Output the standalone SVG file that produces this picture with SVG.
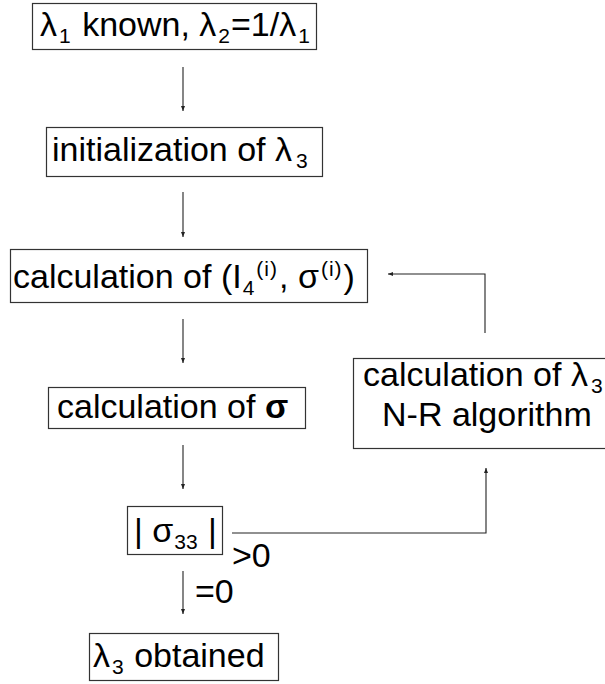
<svg xmlns="http://www.w3.org/2000/svg" width="605" height="684" viewBox="0 0 605 684">
<style>
.box{fill:#fff;stroke:#333;stroke-width:1.2}
.t{font-family:"Liberation Sans",Arial,sans-serif;font-size:34px;fill:#000}
.s{font-size:21px}
.p{font-size:21px;letter-spacing:1px}
.c{fill:none;stroke:#222;stroke-width:1.1}
</style>
<defs>
<marker id="ah" viewBox="0 0 10 10" refX="10" refY="5" markerWidth="5" markerHeight="7" markerUnits="userSpaceOnUse" orient="auto">
<path d="M0,1 L10,5 L0,9 Z" fill="#222"/>
</marker>
</defs>
<rect width="605" height="684" fill="#fff"/>
<g id="n1"><rect class="box" x="32.5" y="3.5" width="284" height="46"/>
<text class="t" x="40" y="36">λ<tspan class="s" dx="2" dy="7">1</tspan><tspan dx="2" dy="-7"> known, λ</tspan><tspan class="s" dx="2" dy="7">2</tspan><tspan dx="1" dy="-7">=1/λ</tspan><tspan class="s" dx="2" dy="7">1</tspan></text></g>
<g id="n2"><rect class="box" x="46.5" y="127.5" width="276" height="49"/>
<text class="t" x="52" y="161">initialization of λ<tspan class="s" dx="4" dy="7">3</tspan></text></g>
<g id="n3"><rect class="box" x="10.5" y="249.5" width="357" height="53"/>
<text class="t" x="13" y="288">calculation of (I<tspan class="s" dx="1" dy="7">4</tspan><tspan class="p" dx="2" dy="-19">(i)</tspan><tspan dx="1" dy="12">, σ</tspan><tspan class="p" dx="2" dy="-12">(i)</tspan><tspan dx="1" dy="12">)</tspan></text></g>
<g id="n4"><rect class="box" x="353.5" y="358.5" width="260" height="90"/>
<text class="t" x="363" y="386">calculation of λ<tspan class="s" dx="3" dy="7">3</tspan></text>
<text class="t" x="382" y="426">N-R algorithm</text></g>
<g id="n5"><rect class="box" x="48.5" y="387.5" width="257" height="41"/>
<text class="t" x="57" y="418">calculation of <tspan font-weight="bold">σ</tspan></text></g>
<g id="n6"><rect class="box" x="127.5" y="506.5" width="95" height="48"/>
<text class="t" x="134" y="542">| σ<tspan class="s" dx="1" dy="7">33</tspan><tspan dx="1" dy="-7"> |</tspan></text></g>
<g id="n7"><rect class="box" x="89.5" y="633.5" width="189" height="47"/>
<text class="t" x="93" y="667">λ<tspan class="s" dx="2" dy="7">3</tspan><tspan dx="1" dy="-7"> obtained</tspan></text></g>
<g id="connectors">
<line class="c" x1="183" y1="67" x2="183" y2="111" marker-end="url(#ah)"/>
<line class="c" x1="183" y1="192" x2="183" y2="237" marker-end="url(#ah)"/>
<line class="c" x1="183" y1="319" x2="183" y2="363" marker-end="url(#ah)"/>
<line class="c" x1="183" y1="445" x2="183" y2="489" marker-end="url(#ah)"/>
<line class="c" x1="183" y1="571" x2="183" y2="614" marker-end="url(#ah)"/>
<polyline class="c" points="485,333 485,274 388,274" marker-end="url(#ah)"/>
<polyline class="c" points="232,533 486,533 486,468" marker-end="url(#ah)"/>
<text class="t" x="232" y="567">&gt;0</text>
<text class="t" x="195" y="603">=0</text>
</g>
</svg>
